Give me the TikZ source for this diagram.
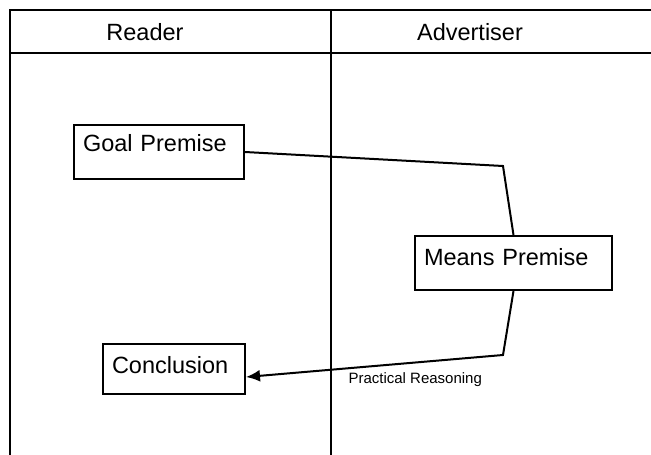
\documentclass[tikz,border=0pt]{standalone}
\usepackage{fontspec}
\setmainfont{Liberation Sans}
\usetikzlibrary{arrows.meta,positioning}

\tikzset{
  lane/.style={line width=2pt},
  lanehead/.style={anchor=base, font=\fontsize{23.5}{28}\selectfont},
  premise/.style={draw, line width=2pt, anchor=north west, inner xsep=9pt, inner ysep=0pt,
    align=left, font=\fontsize{23.5}{28}\selectfont},
  link/.style={line width=2pt},
}

\begin{document}
\begin{tikzpicture}[x=1pt,y=-1pt]
  \useasboundingbox (0,0) rectangle (651,455);

  % lanes
  \draw[lane] (10,455) -- (10,10) -- (651,10);
  \draw[lane] (10,53) -- (651,53);
  \draw[lane] (331,10) -- (331,455);
  \node[lanehead] (reader) at (145,40) {Reader};
  \node[lanehead] (advertiser) at (470,40) {Advertiser};

  % premises
  \node[premise, text width=152pt, text height=26pt, text depth=28pt] (goal) at (73,124) {Goal Premise};
  \node[premise, text width=179pt, text height=29pt, text depth=25pt] (means) at (414,235) {Means Premise};
  \node[premise, text width=124pt, text height=29pt, text depth=21pt] (conclusion) at (102,343) {Conclusion};

  \coordinate (bendA) at (503,166);
  \coordinate (bendB) at (503,355);
  \draw[link] (goal.east) -- (bendA) -- (means.north);
  \draw[link, -{Latex[length=14pt,width=12pt]}] (means.south) -- (bendB) -- ([yshift=-8pt]conclusion.east);
  \node[anchor=base west, font=\fontsize{15}{18}\selectfont] (reasoning) at (345,383) {Practical Reasoning};

\end{tikzpicture}
\end{document}
